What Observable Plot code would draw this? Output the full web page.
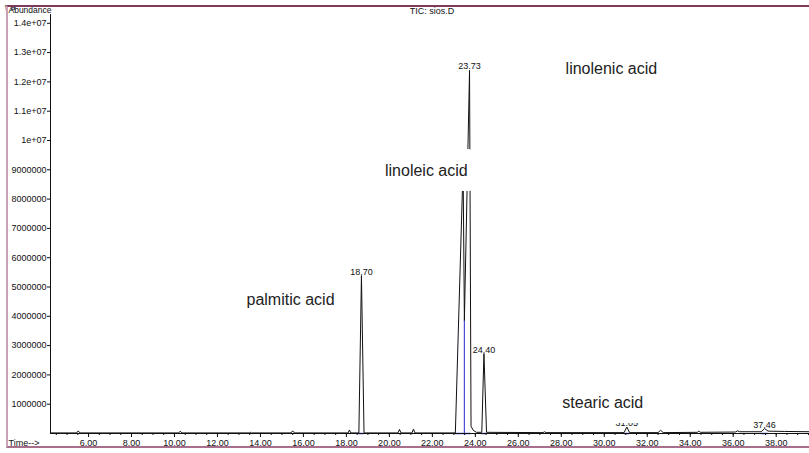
<!DOCTYPE html>
<html><head><meta charset="utf-8">
<script src="https://cdn.jsdelivr.net/npm/d3@7"></script>
<script src="https://cdn.jsdelivr.net/npm/@observablehq/plot@0.6"></script>
<style>
body{margin:0;background:#fff;}
#wrap{position:relative;width:809px;height:453px;overflow:hidden;}
#wrap svg{position:absolute;left:0;top:0;}
#border{position:absolute;left:6px;top:5px;width:840px;height:439px;border-top:2px solid #7d3a5c;border-left:2px solid #c9a2b7;border-bottom:2px solid #a86e8c;pointer-events:none;}
</style></head><body><div id="wrap"></div>
<script>
// TIC trace vertices (retention time in min, abundance)
const time = [4.23, 5.45, 5.52, 5.6, 10.2, 10.27, 10.34, 13.48, 13.53, 13.58, 15.42, 15.5, 15.58, 18.08, 18.14, 18.2, 18.58, 18.70, 18.82,
  20.4, 20.47, 20.54, 21.05, 21.12, 21.19, 23.07, 23.43, 23.49, 23.73, 23.80, 23.9, 24.05, 24.30, 24.40, 24.52,
  27.15, 27.22, 27.29, 30.92, 31.05, 31.18, 32.5, 32.62, 32.74, 34.33, 34.4, 34.47, 36.1, 36.2, 36.3, 37.3, 37.46, 37.62, 38.4, 39.55];
const abundance = [20000, 20000, 90000, 20000, 20000, 80000, 20000, 20000, 40000, 20000, 20000, 90000, 20000, 20000, 120000, 20000, 20000, 5390000, 20000,
  20000, 140000, 20000, 20000, 150000, 20000, 20000, 9100000, 3860000, 12390000, 250000, 110000, 40000, 40000, 2730000, 40000,
  30000, 60000, 30000, 30000, 220000, 30000, 30000, 110000, 30000, 40000, 80000, 40000, 50000, 90000, 60000, 60000, 170000, 80000, 70000, 60000];

// labelled peaks
const peakTimes = [18.70, 23.73, 24.40, 31.05, 37.46];
const peakHeights = [5390000, 12390000, 2730000, 220000, 170000];
const peakLabels = ["18.70", "23.73", "24.40", "31.05", "37.46"];

// compound annotations
const compoundNames = ["palmitic acid", "linoleic acid", "linolenic acid", "stearic acid"];
const compoundTimes = [15.4, 21.72, 30.33, 29.93];
const compoundAbund = [4570000, 8980000, 12460000, 1060000];

// integration markers
const baseStart = [18.58, 23.07, 24.30, 30.92, 37.3];
const baseEnd = [18.82, 23.80, 24.52, 31.18, 37.62];
const dropTime = [23.49];
const dropHeight = [3860000];

// axes
const xDomain = [4.23, 39.55];
const yDomain = [0, 14300000];
const xMajorTicks = d3.range(6, 40, 2);
const xMinorTicks = d3.range(4.5, 39.6, 0.5);
const yTicks = [1000000, 2000000, 3000000, 4000000, 5000000, 6000000, 7000000, 8000000, 9000000, 10000000, 11000000, 12000000, 13000000, 14000000];
const yTickLabels = ["1000000", "2000000", "3000000", "4000000", "5000000", "6000000", "7000000", "8000000", "9000000", "1e+07", "1.1e+07", "1.2e+07", "1.3e+07", "1.4e+07"];
const yLabelMap = new Map(yTicks.map((v, i) => [v, yTickLabels[i]]));

const trace = time.map((t, i) => ({t, a: abundance[i]}));
const blue = "#4a4ad8";

const chart = Plot.plot({
  width: 809, height: 453,
  marginLeft: 50, marginRight: 0, marginTop: 14, marginBottom: 20,
  style: {fontFamily: "'Liberation Sans', Arial, sans-serif", fontSize: "9px", background: "transparent", color: "#111"},
  x: {domain: xDomain, axis: null},
  y: {domain: yDomain, axis: null},
  marks: [
    Plot.ruleY(baseStart.map((s, i) => ({s, e: baseEnd[i]})), {y: 0, x1: "s", x2: "e", stroke: blue, strokeWidth: 1.5}),
    Plot.ruleX(dropTime, {x: d => d, y1: 0, y2: (d, i) => dropHeight[i], stroke: blue, strokeWidth: 1.2}),
    Plot.line(trace, {x: "t", y: "a", stroke: "#111", strokeWidth: 1}),
    Plot.ruleX([xDomain[0]], {stroke: "#111"}),
    Plot.ruleY([0], {stroke: "#111"}),
    Plot.axisY(yTicks, {tickSize: 3, tickPadding: 1, tickFormat: d => yLabelMap.get(d), fontSize: 9}),
    Plot.axisX(xMajorTicks, {tickSize: 4, tickPadding: 2, tickFormat: d => d.toFixed(2), fontSize: 9}),
    Plot.axisX(xMinorTicks, {tickSize: 2, tickFormat: () => ""}),
    Plot.text(peakTimes, {x: d => d, y: (d, i) => peakHeights[i], text: (d, i) => peakLabels[i], lineAnchor: "bottom", dy: -1, fontSize: 9}),
    Plot.text(compoundNames, {x: (d, i) => compoundTimes[i], y: (d, i) => compoundAbund[i], text: d => d, fontSize: 16, fill: "#222",
      stroke: "white", strokeWidth: 30, strokeLinejoin: "round", paintOrder: "stroke"}),
    Plot.text(["Abundance"], {frameAnchor: "top-left", dx: -42, dy: -4, textAnchor: "start", lineAnchor: "middle", fontSize: 8.5}),
    Plot.text(["TIC: sios.D"], {frameAnchor: "top", dx: 2, dy: -3, lineAnchor: "middle", fontSize: 9}),
    Plot.text(["Time-->"], {frameAnchor: "bottom-left", dx: -42, dy: 10, textAnchor: "start", lineAnchor: "middle", fontSize: 9})
  ]
});
const wrap = document.getElementById("wrap");
wrap.appendChild(chart);
const b = document.createElement("div");
b.id = "border";
wrap.appendChild(b);
</script>
</body></html>
